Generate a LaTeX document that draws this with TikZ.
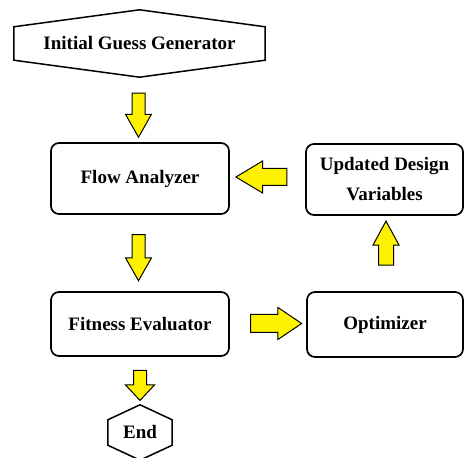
\documentclass[tikz,border=0pt]{standalone}
\usepackage{fontspec}
\setmainfont{Liberation Serif}
\usetikzlibrary{positioning,calc,shapes.arrows}

\begin{document}
\begin{tikzpicture}[
  x=1pt, y=1pt,
  txt/.style={font=\fontsize{19}{30}\selectfont\bfseries, align=center, inner sep=0pt},
  stepbox/.style={txt, draw, line width=1.7pt, rounded corners=8pt},
  hexa/.style={line width=1.5pt},
  fatarrow/.style={single arrow, draw=black, line width=1pt, fill=yellow,
    inner xsep=0pt, minimum width=0pt}
]
  \useasboundingbox (0,0) rectangle (465,457);

  \node (init) [txt, minimum width=251, minimum height=33] at (139.5,413.5) {Initial Guess Generator};
  \draw [hexa] (init.north west) -- ($(init.north)+(0,17)$) -- (init.north east)
    -- (init.south east) -- ($(init.south)+(0,-17)$) -- (init.south west) -- cycle;

  \node (flow) [stepbox, minimum width=178, minimum height=71] at (140,278.5) {Flow Analyzer};
  \node (fit) [stepbox, minimum width=178, minimum height=64] at (140,133) {Fitness Evaluator};
  \node (upd) [stepbox, minimum width=157, minimum height=71] at (384.5,277.5) {Updated Design\\Variables};
  \node (opt) [stepbox, minimum width=156, minimum height=65] at (385,132.5) {Optimizer};

  \node (endh) [txt, minimum width=64, minimum height=25] at (140,24.5) {End};
  \draw [hexa] (endh.north west) -- ($(endh.north)+(0,15)$) -- (endh.north east)
    -- (endh.south east) -- ($(endh.south)+(0,-15)$) -- (endh.south west) -- cycle;

  % block arrows between the boxes
  \node (a1) [fatarrow, inner ysep=6pt, single arrow head extend=6.5pt,
    single arrow tip angle=59, minimum height=44, rotate=-90] at (138.5,347.5) {};
  \node (a2) [fatarrow, inner ysep=6pt, single arrow head extend=6.5pt,
    single arrow tip angle=59, minimum height=46, rotate=-90] at (138.5,205) {};
  \node (a3) [fatarrow, inner ysep=6pt, single arrow head extend=8pt,
    single arrow tip angle=86, minimum height=30, rotate=-90] at (140,75) {};
  \node (a4) [fatarrow, inner ysep=8pt, single arrow head extend=7.5pt,
    single arrow tip angle=62, minimum height=51, rotate=180] at (268.5,280) {};
  \node (a5) [fatarrow, inner ysep=7pt, single arrow head extend=5.5pt,
    single arrow tip angle=57, minimum height=44, rotate=90] at (386,207) {};
  \node (a6) [fatarrow, inner ysep=8.5pt, single arrow head extend=7pt,
    single arrow tip angle=68, minimum height=51] at (269.5,133.5) {};
\end{tikzpicture}
\end{document}
